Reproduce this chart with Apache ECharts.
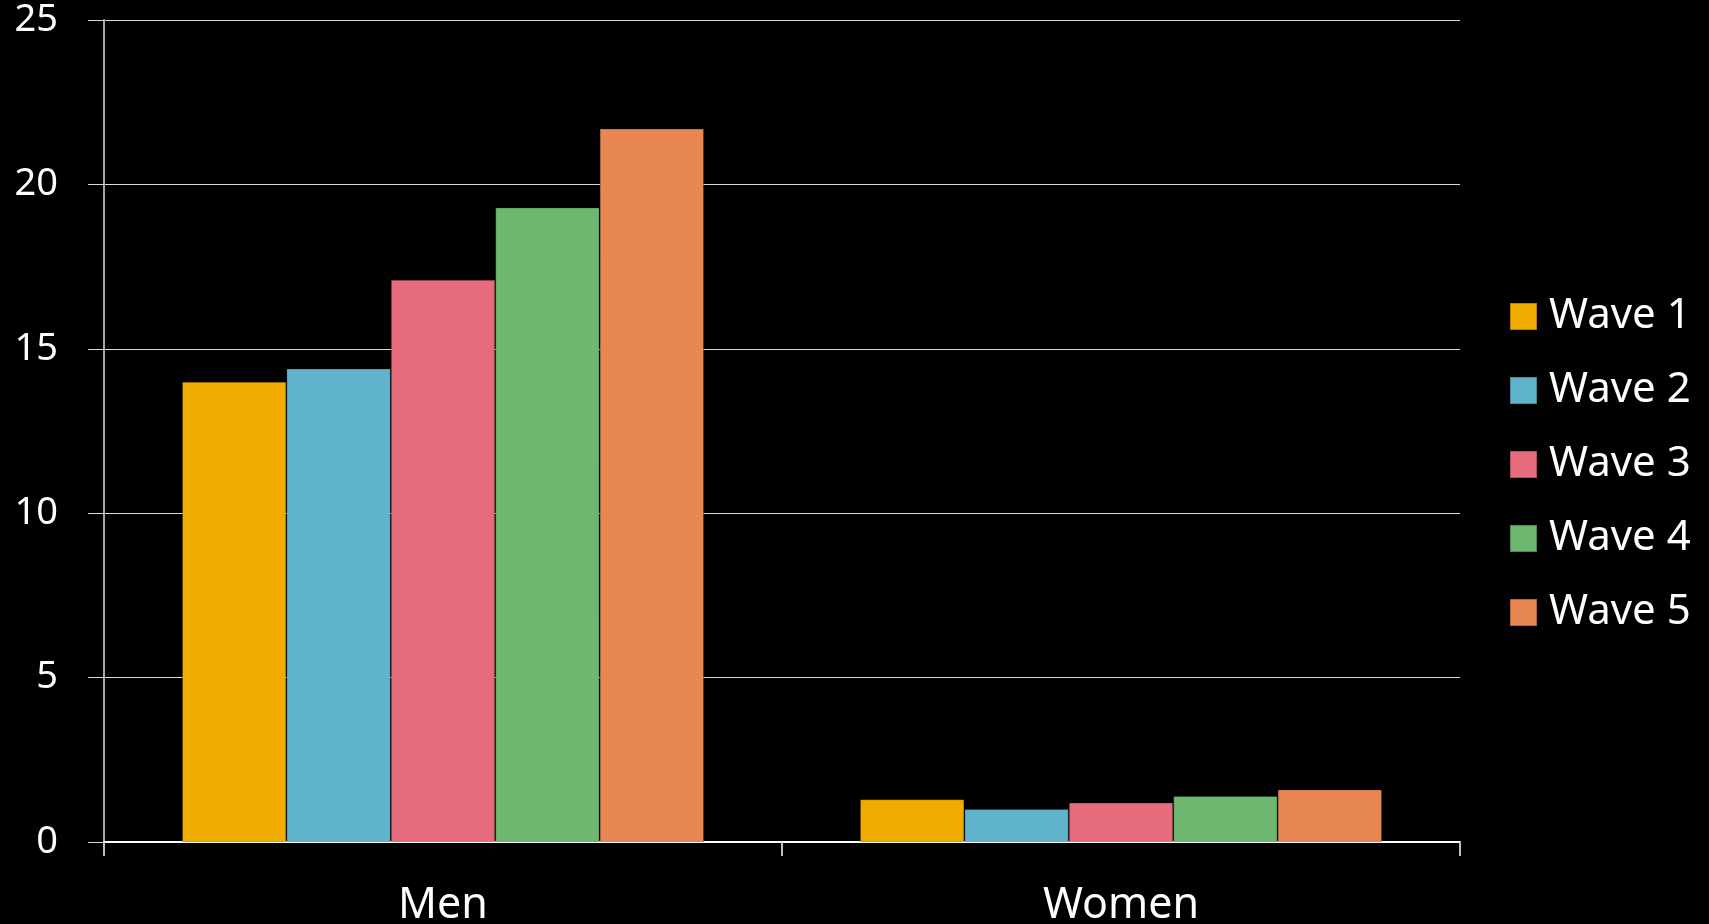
<!DOCTYPE html>
<html>
<head>
<meta charset="utf-8">
<script src="https://cdn.jsdelivr.net/npm/echarts@6/dist/echarts.min.js"></script>
<style>
html,body{margin:0;padding:0;background:#000;}
#chart{width:1709px;height:924px;}
</style>
</head>
<body>
<div id="chart"></div>
<script>
const categories = ['Men', 'Women'];
const seriesNames = ['Wave 1', 'Wave 2', 'Wave 3', 'Wave 4', 'Wave 5'];
const wave1 = [14.0, 1.3];
const wave2 = [14.4, 1.0];
const wave3 = [17.1, 1.2];
const wave4 = [19.3, 1.4];
const wave5 = [21.7, 1.6];
const colors = ['#F0AD00', '#60B5CC', '#E66C7D', '#6DB770', '#E88752'];
const yTicks = [0, 5, 10, 15, 20, 25];

const values = [wave1, wave2, wave3, wave4, wave5];
const font = 'Noto Sans';

const chart = echarts.init(document.getElementById('chart'));
chart.setOption({
  backgroundColor: '#000',
  animation: false,
  grid: { left: 104, right: 249, top: 20, bottom: 82, containLabel: false, outerBoundsMode: 'none' },
  legend: {
    orient: 'vertical',
    left: 1509,
    top: 295,
    padding: 0,
    itemWidth: 27,
    itemHeight: 27,
    itemGap: 31,
    icon: 'rect',
    textStyle: { color: '#fff', fontSize: 42, fontFamily: font, lineHeight: 43, padding: [0, 0, 0, 7] },
    data: seriesNames
  },
  xAxis: {
    type: 'category',
    data: categories,
    axisLine: { show: true, lineStyle: { color: '#ffffff', width: 2 } },
    axisTick: { show: true, length: 14, lineStyle: { color: '#bfbfbf', width: 2 } },
    axisLabel: { color: '#fff', fontSize: 43, fontFamily: font, margin: 42 },
    splitLine: { show: false }
  },
  yAxis: {
    type: 'value',
    min: yTicks[0],
    max: yTicks[yTicks.length - 1],
    interval: 5,
    axisLine: { show: true, lineStyle: { color: '#a6a6a6', width: 2 } },
    axisTick: { show: true, inside: false, length: 16, lineStyle: { color: '#d9d9d9', width: 1 } },
    axisLabel: { color: '#fff', fontSize: 38, fontFamily: font, margin: 46 },
    splitLine: { show: true, lineStyle: { color: '#d9d9d9', width: 1 } }
  },
  series: seriesNames.map((name, i) => ({
    name: name,
    type: 'bar',
    data: values[i],
    barGap: '0%',
    barCategoryGap: '23%',
    itemStyle: { color: colors[i], borderColor: 'rgba(0,0,0,0.25)', borderWidth: 1 }
  }))
});
</script>
</body>
</html>
